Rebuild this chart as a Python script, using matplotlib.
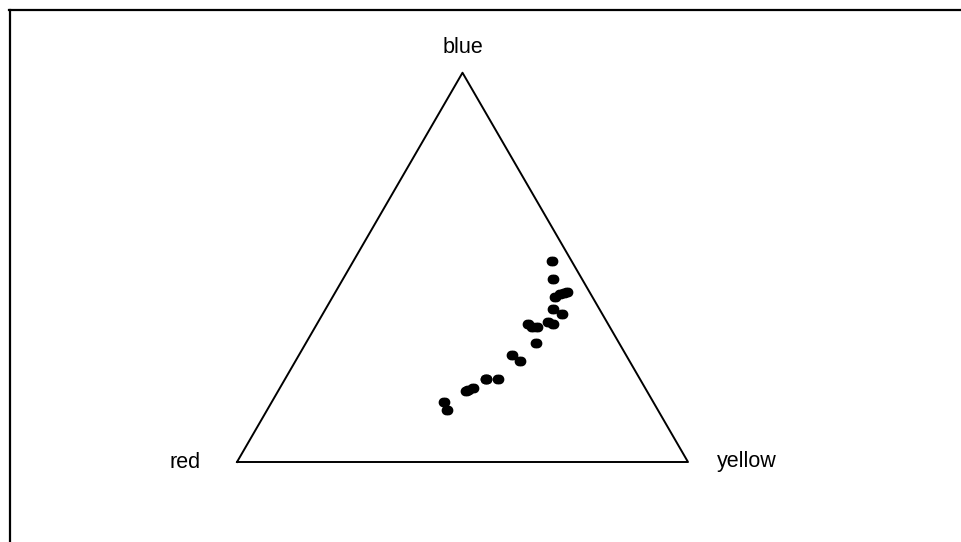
import numpy as np
import matplotlib.pyplot as plt
import matplotlib.transforms as mtransforms

plt.rcParams['font.family'] = ['Liberation Sans', 'DejaVu Sans']

# ternary compositions (fractions of red, yellow, blue)
red = [0.044, 0.063, 0.082, 0.068, 0.051, 0.058, 0.102, 0.089, 0.177, 0.173,
       0.161, 0.130, 0.121, 0.185, 0.252, 0.243, 0.341, 0.314, 0.401, 0.381,
       0.463, 0.468, 0.395, 0.347]
yellow = [0.440, 0.466, 0.493, 0.500, 0.513, 0.507, 0.504, 0.530, 0.468, 0.479,
          0.491, 0.511, 0.524, 0.510, 0.473, 0.498, 0.446, 0.473, 0.416, 0.429,
          0.382, 0.398, 0.421, 0.451]
blue = [0.516, 0.471, 0.425, 0.432, 0.436, 0.435, 0.394, 0.381, 0.355, 0.348,
        0.348, 0.359, 0.355, 0.305, 0.275, 0.259, 0.213, 0.213, 0.183, 0.190,
        0.155, 0.134, 0.184, 0.215]
corner_labels = ['red', 'yellow', 'blue']

h = np.sqrt(3) / 2
r = np.array(red)
yl = np.array(yellow)
b = np.array(blue)
tot = r + yl + b
x = (yl + b / 2) / tot
y = (b * h) / tot

fig = plt.figure(figsize=(9.61, 5.42), dpi=100)
ax = fig.add_axes([0, 0, 1, 1])
ax.set_xlim(-237 / 451, (961 - 237) / 451)
ax.set_ylim(-(542 - 462) / 449.5, 462 / 449.5)
ax.axis('off')

# triangle outline
ax.plot([0, 1, 0.5, 0], [0, 0, h, 0], color='black', lw=1.4)

# dots look slightly smeared sideways, draw each twice with a small shift
for dx in (-1.0, 1.0):
    tr = ax.transData + mtransforms.ScaledTranslation(dx / 100, 0, fig.dpi_scale_trans)
    ax.plot(x, y, 'o', color='black', ms=6, mec='black', transform=tr)

ax.text(-0.116, 0, corner_labels[0], ha='center', va='center', fontsize=15.5)
ax.text(1.131, 0, corner_labels[1], ha='center', va='center', fontsize=15.5)
ax.text(0.5, h + 0.057, corner_labels[2], ha='center', va='center', fontsize=15.5)

# frame lines (left and top)
fig.add_artist(plt.Line2D([10 / 961, 10 / 961], [0, 1 - 9.5 / 542], color='black', lw=1.6))
fig.add_artist(plt.Line2D([9 / 961, 1], [1 - 9.5 / 542, 1 - 9.5 / 542], color='black', lw=1.6))

fig.savefig('out.png', dpi=100)
